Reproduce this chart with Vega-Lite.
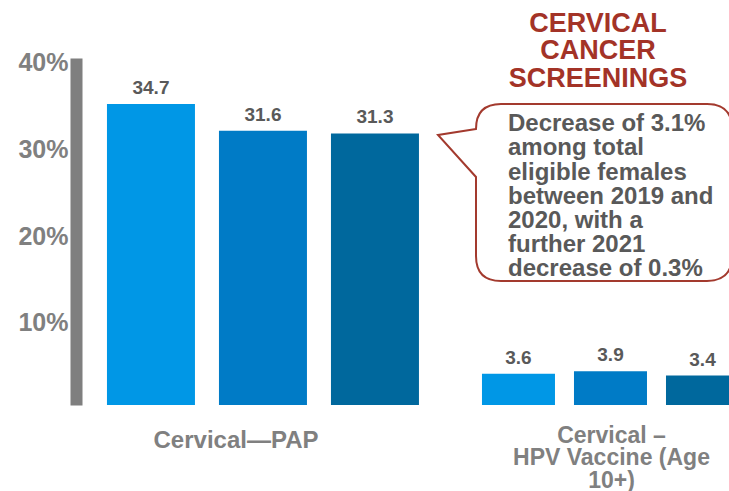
{
  "$schema": "https://vega.github.io/schema/vega-lite/v6.json",
  "padding": {"left": 17, "top": 10, "right": 0, "bottom": 0},
  "spacing": 0,
  "config": {"view": {"stroke": null}, "font": "Liberation Sans"},
  "data": {
    "values": [
      {"category": "Cervical—PAP", "year": "2019", "value": 34.7},
      {"category": "Cervical—PAP", "year": "2020", "value": 31.6},
      {"category": "Cervical—PAP", "year": "2021", "value": 31.3},
      {"category": "Cervical – HPV Vaccine (Age 10+)", "year": "2019", "value": 3.6},
      {"category": "Cervical – HPV Vaccine (Age 10+)", "year": "2020", "value": 3.9},
      {"category": "Cervical – HPV Vaccine (Age 10+)", "year": "2021", "value": 3.4}
    ]
  },
  "hconcat": [
    {
      "width": 355,
      "height": 347,
      "transform": [{"filter": "datum.category === 'Cervical—PAP'"}],
      "encoding": {
        "x": {
          "field": "year", "type": "nominal",
          "scale": {"paddingInner": 0.2143, "paddingOuter": 0.192, "align": 0.72},
          "axis": {"labels": false, "ticks": false, "domain": false, "title": "Cervical—PAP",
                   "titleFontSize": 24, "titleFontWeight": "bold", "titleColor": "#808080",
                   "titlePadding": 23, "titleX": 159.5}
        },
        "y": {
          "field": "value", "type": "quantitative",
          "scale": {"domain": [0, 40]},
          "axis": {"values": [10, 20, 30, 40], "labelExpr": "datum.value + '%'",
                   "domainWidth": 12, "domainColor": "#7f7f7f", "ticks": false, "grid": false,
                   "labelFontSize": 25, "labelFontWeight": "bold", "labelColor": "#808080",
                   "labelPadding": 8, "labelOffset": 4.5, "title": null}
        }
      },
      "layer": [
        {
          "mark": {"type": "bar"},
          "encoding": {
            "color": {"field": "year", "type": "nominal",
                      "scale": {"domain": ["2019", "2020", "2021"], "range": ["#0097e6", "#007bc6", "#00689d"]},
                      "legend": null}
          }
        },
        {
          "mark": {"type": "text", "baseline": "middle", "dy": -16, "fontSize": 19, "fontWeight": "bold", "color": "#595959"},
          "encoding": {"text": {"field": "value", "type": "quantitative", "format": ".1f"}}
        }
      ]
    },
    {
      "width": 299,
      "height": 347,
      "layer": [
        {
          "transform": [{"filter": "datum.category !== 'Cervical—PAP'"}],
          "encoding": {
            "x": {
              "field": "year", "type": "nominal",
              "scale": {"paddingInner": 0.2065, "paddingOuter": 0.277, "align": 1, "range": [0, 308]},
              "axis": {"labels": false, "ticks": false, "domain": false,
                       "title": ["Cervical –", "HPV Vaccine (Age", "10+)"],
                       "titleFontSize": 23, "titleFontWeight": "bold", "titleColor": "#808080",
                       "titlePadding": 19, "titleLineHeight": 22.5, "titleX": 180}
            },
            "y": {"field": "value", "type": "quantitative", "scale": {"domain": [0, 40]}, "axis": null}
          },
          "layer": [
            {
              "mark": {"type": "bar", "clip": true},
              "encoding": {
                "color": {"field": "year", "type": "nominal",
                          "scale": {"domain": ["2019", "2020", "2021"], "range": ["#0097e6", "#007bc6", "#00689d"]},
                          "legend": null}
              }
            },
            {
              "mark": {"type": "text", "baseline": "middle", "dy": -16, "fontSize": 19, "fontWeight": "bold", "color": "#595959"},
              "encoding": {"text": {"field": "value", "type": "quantitative", "format": ".1f"}}
            }
          ]
        },
        {
          "data": {"values": [{}]},
          "mark": {
            "type": "point",
            "shape": "M-1.28,-0.635 L-1.66,-0.575 L-1.28,-0.155 L-1.28,0.635 Q-1.28,0.885 -1.03,0.885 L1.03,0.885 Q1.28,0.885 1.28,0.635 L1.28,-0.635 Q1.28,-0.885 1.03,-0.885 L-1.03,-0.885 Q-1.28,-0.885 -1.28,-0.635 Z",
            "size": 40000, "filled": true, "fill": "white", "stroke": "#a33a2e", "strokeWidth": 2, "opacity": 1, "clip": true
          },
          "encoding": {
            "x": {"datum": 0.5786, "type": "quantitative", "scale": {"domain": [0, 1], "nice": false, "zero": false}, "axis": null},
            "y": {"datum": 24.5, "type": "quantitative", "scale": {"domain": [0, 40]}, "axis": null}
          }
        },
        {
          "data": {"values": [{}]},
          "mark": {
            "type": "text", "text": ["CERVICAL", "CANCER", "SCREENINGS"],
            "align": "center", "baseline": "middle", "fontSize": 27, "fontWeight": "bold",
            "lineHeight": 27.4, "color": "#a33327"
          },
          "encoding": {
            "x": {"datum": 0.5585, "type": "quantitative", "scale": {"domain": [0, 1], "nice": false, "zero": false}, "axis": null},
            "y": {"datum": 43.91, "type": "quantitative", "scale": {"domain": [0, 40]}, "axis": null}
          }
        },
        {
          "data": {"values": [{}]},
          "mark": {
            "type": "text",
            "text": ["Decrease of 3.1%", "among total", "eligible females", "between 2019 and", "2020, with a", "further 2021", "decrease of 0.3%"],
            "align": "left", "baseline": "middle", "fontSize": 24, "fontWeight": "bold",
            "lineHeight": 24.1, "color": "#595959"
          },
          "encoding": {
            "x": {"datum": 0.2575, "type": "quantitative", "scale": {"domain": [0, 1], "nice": false, "zero": false}, "axis": null},
            "y": {"datum": 32.35, "type": "quantitative", "scale": {"domain": [0, 40]}, "axis": null}
          }
        }
      ],
      "resolve": {"scale": {"x": "independent"}, "axis": {"x": "independent"}}
    }
  ]
}
